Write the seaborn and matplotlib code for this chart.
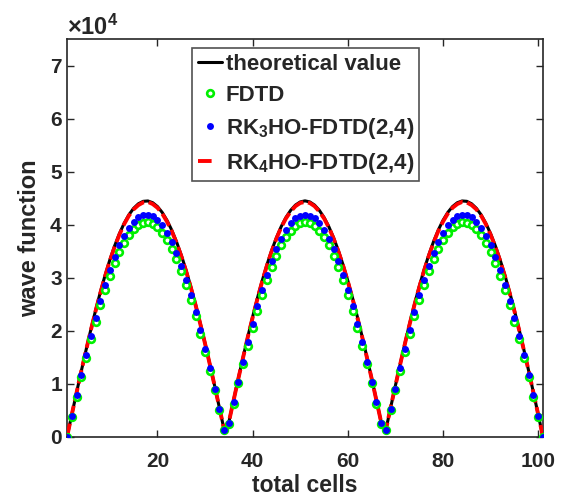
import matplotlib
matplotlib.use("Agg")
import matplotlib.pyplot as plt
from matplotlib.lines import Line2D
import seaborn as sns
import pandas as pd

# ---------------- data (units: wave function / 1e4) ----------------
cells = list(range(1, 102))

theory = [0.000, 0.419, 0.834, 1.242, 1.638, 2.020, 2.384, 2.727, 3.046, 3.338,
          3.600, 3.830, 4.026, 4.187, 4.310, 4.395, 4.441, 4.448, 4.415, 4.343,
          4.232, 4.084, 3.900, 3.681, 3.429, 3.147, 2.836, 2.501, 2.144, 1.767,
          1.375, 0.971, 0.558, 0.140, 0.279, 0.696, 1.107, 1.507, 1.895, 2.265,
          2.616, 2.943, 3.244, 3.516, 3.757, 3.965, 4.138, 4.273, 4.371, 4.430,
          4.450, 4.430, 4.371, 4.273, 4.138, 3.965, 3.757, 3.516, 3.244, 2.943,
          2.616, 2.265, 1.895, 1.507, 1.107, 0.696, 0.279, 0.140, 0.558, 0.971,
          1.375, 1.767, 2.144, 2.501, 2.836, 3.147, 3.429, 3.681, 3.900, 4.084,
          4.232, 4.343, 4.415, 4.448, 4.441, 4.395, 4.310, 4.187, 4.026, 3.830,
          3.600, 3.338, 3.046, 2.727, 2.384, 2.020, 1.638, 1.242, 0.834, 0.419,
          0.000]

fdtd = [0.00, 0.38, 0.76, 1.13, 1.49, 1.84, 2.17, 2.48, 2.77, 3.04,
        3.28, 3.49, 3.66, 3.81, 3.92, 4.00, 4.04, 4.05, 4.02, 3.95,
        3.85, 3.72, 3.55, 3.35, 3.12, 2.86, 2.58, 2.28, 1.95, 1.61,
        1.25, 0.88, 0.51, 0.13, 0.25, 0.63, 1.01, 1.37, 1.72, 2.06,
        2.38, 2.68, 2.95, 3.20, 3.42, 3.61, 3.77, 3.89, 3.98, 4.03,
        4.05, 4.03, 3.98, 3.89, 3.77, 3.61, 3.42, 3.20, 2.95, 2.68,
        2.38, 2.06, 1.72, 1.37, 1.01, 0.63, 0.25, 0.13, 0.51, 0.88,
        1.25, 1.61, 1.95, 2.28, 2.58, 2.86, 3.12, 3.35, 3.55, 3.72,
        3.85, 3.95, 4.02, 4.05, 4.04, 4.00, 3.92, 3.81, 3.66, 3.49,
        3.28, 3.04, 2.77, 2.48, 2.17, 1.84, 1.49, 1.13, 0.76, 0.38,
        0.00]

rk3 = [0.00, 0.39, 0.79, 1.17, 1.54, 1.90, 2.25, 2.57, 2.87, 3.14,
       3.39, 3.61, 3.79, 3.94, 4.06, 4.14, 4.18, 4.19, 4.16, 4.09,
       3.99, 3.85, 3.67, 3.47, 3.23, 2.96, 2.67, 2.36, 2.02, 1.66,
       1.30, 0.91, 0.53, 0.13, 0.26, 0.66, 1.04, 1.42, 1.79, 2.13,
       2.46, 2.77, 3.06, 3.31, 3.54, 3.74, 3.90, 4.03, 4.12, 4.17,
       4.19, 4.17, 4.12, 4.03, 3.90, 3.74, 3.54, 3.31, 3.06, 2.77,
       2.46, 2.13, 1.79, 1.42, 1.04, 0.66, 0.26, 0.13, 0.53, 0.91,
       1.30, 1.66, 2.02, 2.36, 2.67, 2.96, 3.23, 3.47, 3.67, 3.85,
       3.99, 4.09, 4.16, 4.19, 4.18, 4.14, 4.06, 3.94, 3.79, 3.61,
       3.39, 3.14, 2.87, 2.57, 2.25, 1.90, 1.54, 1.17, 0.79, 0.39,
       0.00]

rk4 = [0.00, 0.42, 0.83, 1.24, 1.63, 2.01, 2.37, 2.71, 3.03, 3.32,
       3.58, 3.81, 4.01, 4.17, 4.29, 4.37, 4.42, 4.43, 4.39, 4.32,
       4.21, 4.06, 3.88, 3.66, 3.41, 3.13, 2.82, 2.49, 2.13, 1.76,
       1.37, 0.97, 0.56, 0.14, 0.28, 0.69, 1.10, 1.50, 1.89, 2.25,
       2.60, 2.93, 3.23, 3.50, 3.74, 3.95, 4.12, 4.25, 4.35, 4.41,
       4.43, 4.41, 4.35, 4.25, 4.12, 3.95, 3.74, 3.50, 3.23, 2.93,
       2.60, 2.25, 1.89, 1.50, 1.10, 0.69, 0.28, 0.14, 0.56, 0.97,
       1.37, 1.76, 2.13, 2.49, 2.82, 3.13, 3.41, 3.66, 3.88, 4.06,
       4.21, 4.32, 4.39, 4.43, 4.42, 4.37, 4.29, 4.17, 4.01, 3.81,
       3.58, 3.32, 3.03, 2.71, 2.37, 2.01, 1.63, 1.24, 0.83, 0.42,
       0.00]

SCALE = 1e4
x_ticks = [20, 40, 60, 80, 100]
y_ticks = [0, 1, 2, 3, 4, 5, 6, 7]

# ---------------- style ----------------
sns.set_style("ticks")
plt.rcParams["font.family"] = ["Liberation Sans", "DejaVu Sans"]
plt.rcParams["font.weight"] = "bold"
plt.rcParams["mathtext.fontset"] = "custom"
plt.rcParams["mathtext.rm"] = "Liberation Sans:bold"
plt.rcParams["mathtext.bf"] = "Liberation Sans:bold"
plt.rcParams["mathtext.default"] = "bf"
dark = "#262626"
FS = 16

df = pd.DataFrame({
    "cells": cells,
    "theory": [v * SCALE for v in theory],
    "fdtd": [v * SCALE for v in fdtd],
    "rk3": [v * SCALE for v in rk3],
    "rk4": [v * SCALE for v in rk4],
})

fig = plt.figure(figsize=(5.63, 4.96), dpi=100)
ax = fig.add_axes([67 / 563, 1 - 437 / 496, 476 / 563, 398 / 496])

sns.lineplot(data=df, x="cells", y="theory", ax=ax, color="black", linewidth=2.2,
             label="theoretical value", zorder=2)
sns.lineplot(data=df, x="cells", y="fdtd", ax=ax, color="#00ff00", linestyle="",
             marker="o", markersize=4.8, markerfacecolor="white",
             markeredgecolor="#00f000", markeredgewidth=1.9, label="FDTD", zorder=4)
sns.lineplot(data=df, x="cells", y="rk3", ax=ax, color="blue", linestyle="",
             marker="o", markersize=5.0, markeredgewidth=0,
             label=r"RK$_3$HO-FDTD(2,4)", zorder=5)
sns.lineplot(data=df, x="cells", y="rk4", ax=ax, color="red", linewidth=2.8,
             linestyle=(0, (3.5, 1.2)), label=r"RK$_4$HO-FDTD(2,4)", zorder=3)

ax.set_xlim(1, 101)
ax.set_ylim(0, 7.5e4)
ax.set_xticks(x_ticks)
ax.set_yticks([v * SCALE for v in y_ticks])
ax.ticklabel_format(axis="y", style="sci", scilimits=(0, 0), useMathText=True)
ax.yaxis.get_offset_text().set_fontsize(FS + 1)
ax.yaxis.get_offset_text().set_color(dark)

ax.tick_params(direction="in", top=True, right=True, length=5, width=1,
               labelsize=15, colors=dark)
ax.tick_params(axis="x", pad=11)
ax.tick_params(axis="y", pad=3)
for lab in ax.get_xticklabels() + ax.get_yticklabels():
    lab.set_fontweight("bold")
for sp in ax.spines.values():
    sp.set_visible(True)
    sp.set_color(dark)
    sp.set_linewidth(1.2)

ax.set_ylabel("wave function", fontsize=FS + 1, fontweight="bold", color=dark, labelpad=6)
ax.set_xlabel("total cells", fontsize=16.5, fontweight="bold", color=dark)
# baseline of the axis title sits just above the figure bottom, as in the reference
ax.xaxis.set_label_coords(0.5, -55 / 398)
ax.xaxis.label.set_va("baseline")

handles, labels = ax.get_legend_handles_labels()
# legend sample for the dashed series shows a single short dash
handles[3] = Line2D([], [], color="red", linewidth=2.8, linestyle=(0, (3.5, 20)))
leg = ax.legend(handles, labels, loc="upper left", bbox_to_anchor=(0.263, 0.977),
                borderaxespad=0, fontsize=FS, frameon=True, fancybox=False,
                handlelength=1.1, handletextpad=0.15, labelspacing=0.45,
                borderpad=0.25)
leg.get_frame().set_edgecolor(dark)
leg.get_frame().set_linewidth(1.2)
for t in leg.get_texts():
    t.set_fontweight("bold")

fig.savefig("out.png", dpi=100)
